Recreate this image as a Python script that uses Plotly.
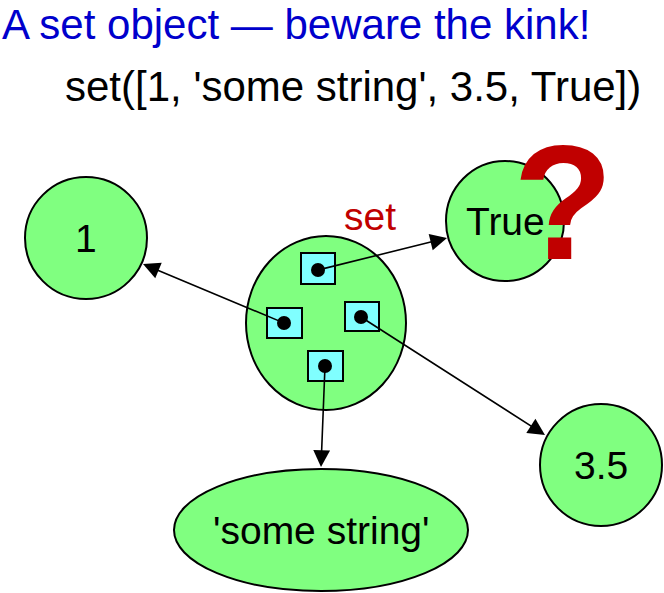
import plotly.graph_objects as go

# what the slide shows
TITLE = "A set object \u2014 beware the kink!"
set_elements = [1, 'some string', 3.5, True]
set_label = "set"
kink_mark = "?"

element_labels = [repr(e) for e in set_elements]
code_text = "set([" + ", ".join(element_labels) + "])"

# drawing layout (pixels, y down)
W, H = 664, 593
GREEN = "#80FF80"
CYAN = "#80FFFF"
RED = "#C00000"
BLUE = "#0000CC"
FONT = "Liberation Sans, Arial, sans-serif"

set_body = dict(cx=326, cy=323, rx=80, ry=87)

# element order follows set_elements
nodes = {
    "1": dict(cx=86, cy=238, rx=61, ry=61, tip=(143, 264)),
    "'some string'": dict(cx=321, cy=530, rx=147, ry=61, tip=(321, 467)),
    "3.5": dict(cx=601, cy=465, rx=61, ry=61, tip=(545, 435)),
    "True": dict(cx=505, cy=221, rx=59, ry=60, tip=(447, 238)),
}
# slot boxes inside the set body: (x0, y0, x1, y1, dot x, dot y)
slots = {
    "1": (267, 308, 302, 338, 284, 323),
    "'some string'": (308, 351, 343, 381, 325, 366),
    "3.5": (345, 302, 379, 331, 361, 317),
    "True": (301, 253, 335, 284, 318, 270),
}

fig = go.Figure()
fig.add_trace(go.Scatter(x=[0, W], y=[0, H], mode="markers",
                         marker=dict(opacity=0), hoverinfo="skip", showlegend=False))

line_style = dict(color="black", width=2)


def ellipse(cx, cy, rx, ry, fill):
    fig.add_shape(type="circle", x0=cx - rx, x1=cx + rx, y0=cy - ry, y1=cy + ry,
                  fillcolor=fill, line=line_style, layer="above")


for label in element_labels:
    n = nodes[label]
    ellipse(n["cx"], n["cy"], n["rx"], n["ry"], GREEN)
    fig.add_annotation(x=n["cx"], y=n["cy"], text=label, showarrow=False,
                       font=dict(family=FONT, size=39, color="black"))

ellipse(set_body["cx"], set_body["cy"], set_body["rx"], set_body["ry"], GREEN)

for label in element_labels:
    x0, y0, x1, y1, dx, dy = slots[label]
    fig.add_shape(type="rect", x0=x0, x1=x1, y0=y0, y1=y1,
                  fillcolor=CYAN, line=line_style, layer="above")
    fig.add_shape(type="circle", x0=dx - 7, x1=dx + 7, y0=dy - 7, y1=dy + 7,
                  fillcolor="black", line=dict(color="black", width=0), layer="above")
    tx, ty = nodes[label]["tip"]
    fig.add_annotation(x=tx, y=ty, ax=dx, ay=dy, xref="x", yref="y",
                       axref="x", ayref="y", text="", showarrow=True,
                       arrowhead=2, arrowsize=2.1, arrowwidth=1.6,
                       arrowcolor="black", standoff=0)

fig.add_annotation(x=370, y=216, text=set_label, showarrow=False,
                   font=dict(family=FONT, size=39, color=RED))

fig.add_annotation(x=563, y=202, text="<b>" + kink_mark + "</b>", showarrow=False,
                   font=dict(family=FONT, size=164, color=RED))

fig.add_annotation(x=0, y=24, text=TITLE, showarrow=False, xanchor="left",
                   font=dict(family=FONT, size=42, color=BLUE))
fig.add_annotation(x=63, y=86, text=code_text, showarrow=False, xanchor="left",
                   font=dict(family=FONT, size=42, color="black"))

fig.update_xaxes(range=[0, W], visible=False, fixedrange=True)
fig.update_yaxes(range=[H, 0], visible=False, fixedrange=True)
fig.update_layout(width=W, height=H, margin=dict(l=0, r=0, t=0, b=0),
                  plot_bgcolor="white", paper_bgcolor="white", showlegend=False)

fig.write_html("out.html", config={"displayModeBar": False},
               post_script="document.body.style.margin='0px';")
